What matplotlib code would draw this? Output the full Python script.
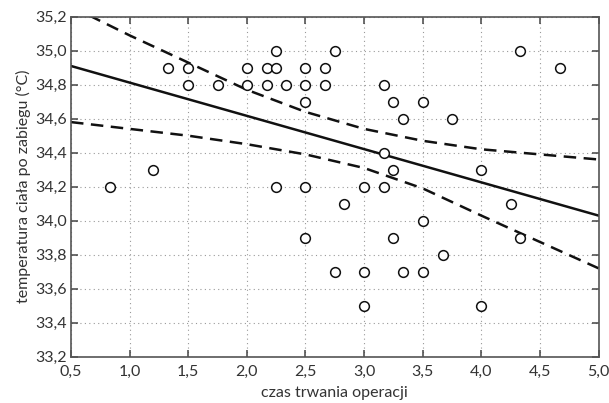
import matplotlib
matplotlib.use("Agg")
import matplotlib.pyplot as plt
from matplotlib.ticker import FuncFormatter, MultipleLocator

# czas trwania operacji (h) i temperatura ciała po zabiegu (°C)
czas = [0.83, 1.20, 1.33, 1.50, 1.50, 1.75, 2.00, 2.00, 2.17, 2.17,
        2.25, 2.25, 2.33, 2.25, 2.50, 2.50, 2.50, 2.50, 2.50, 2.67,
        2.67, 2.75, 2.75, 2.83, 3.00, 3.00, 3.00, 3.17, 3.17, 3.17,
        3.25, 3.25, 3.25, 3.33, 3.33, 3.50, 3.50, 3.50, 3.67, 3.75,
        4.00, 4.00, 4.25, 4.33, 4.33, 4.67]
temperatura = [34.2, 34.3, 34.9, 34.9, 34.8, 34.8, 34.9, 34.8, 34.9, 34.8,
               35.0, 34.9, 34.8, 34.2, 34.9, 34.8, 34.7, 34.2, 33.9, 34.9,
               34.8, 35.0, 33.7, 34.1, 34.2, 33.7, 33.5, 34.8, 34.4, 34.2,
               34.7, 34.3, 33.9, 34.6, 33.7, 34.7, 34.0, 33.7, 33.8, 34.6,
               34.3, 33.5, 34.1, 35.0, 33.9, 34.9]

# prosta regresji
prosta_x = [0.5, 5.0]
prosta_y = [34.91, 34.03]

# granice przedziału ufności (odczytane w punktach siatki)
pasmo_x = [0.5, 1.0, 1.5, 2.0, 2.5, 3.0, 3.5, 4.0, 4.5, 5.0]
pasmo_gora = [35.26, 35.09, 34.93, 34.77, 34.64, 34.54, 34.47, 34.42, 34.39, 34.36]
pasmo_dol = [34.58, 34.54, 34.50, 34.45, 34.39, 34.31, 34.19, 34.03, 33.875, 33.72]

plt.rcParams['font.family'] = ['Lato', 'DejaVu Sans']
plt.rcParams['font.size'] = 11.5

fig = plt.figure(figsize=(6.09, 4.03), dpi=100)
ax = fig.add_axes([0.1166, 0.1149, 0.8662, 0.8437])

ax.plot(prosta_x, prosta_y, color='#111111', lw=1.8)
ax.plot(pasmo_x, pasmo_gora, color='#111111', lw=1.8, dashes=(5, 3))
ax.plot(pasmo_x, pasmo_dol, color='#111111', lw=1.8, dashes=(5, 3))
ax.plot(czas, temperatura, 'o', mfc='white', mec='#111111', mew=1.1, ms=7, zorder=3)

ax.set_xlim(0.5, 5.0)
ax.set_ylim(33.2, 35.2)
ax.xaxis.set_major_locator(MultipleLocator(0.5))
ax.yaxis.set_major_locator(MultipleLocator(0.2))
fmt = FuncFormatter(lambda v, p: f"{v:.1f}".replace('.', ','))
ax.xaxis.set_major_formatter(fmt)
ax.yaxis.set_major_formatter(fmt)

ax.grid(True, color='#999999', linestyle=(0, (1, 3)), linewidth=0.8)
ax.tick_params(direction='in', length=5, width=1.1, color='#444444',
               top=True, right=True, labelcolor='#333333')
ax.tick_params(axis='x', pad=6)
ax.tick_params(axis='y', pad=3)
for sp in ax.spines.values():
    sp.set_color('#555555')
    sp.set_linewidth(1.2)

ax.set_xlabel('czas trwania operacji', color='#333333', labelpad=5)
ax.set_ylabel('temperatura ciała po zabiegu (°C)', color='#333333', labelpad=3)

fig.savefig('out.png', dpi=100)
